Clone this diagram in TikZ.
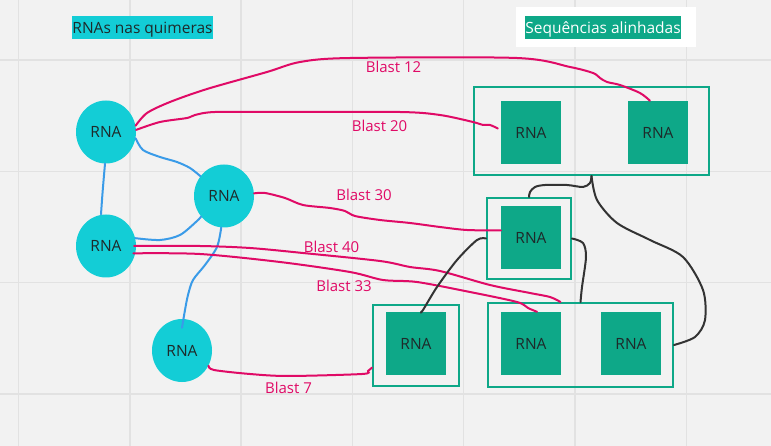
\documentclass[tikz,border=0pt]{standalone}
\usepackage{fontspec}
\setmainfont{Open Sans}
\usetikzlibrary{shapes.geometric}
\definecolor{fundo}{HTML}{F2F2F2}
\definecolor{grade}{HTML}{E2E2E2}
\definecolor{ciano}{HTML}{13CDD6}
\definecolor{verde}{HTML}{0EA888}
\definecolor{rosa}{HTML}{E00A66}
\definecolor{azul}{HTML}{3A9BE8}
\definecolor{escuro}{HTML}{333333}
\definecolor{texto}{HTML}{1E2A2A}
\tikzset{
	quimera/.style={ellipse, fill=ciano, minimum width=60pt, minimum height=63pt, inner sep=0pt,
		font=\fontsize{15.5}{18}\selectfont, text=texto, text height=11.2pt, text depth=0pt},
	seq/.style={rectangle, fill=verde, minimum width=60pt, minimum height=63pt, inner sep=0pt,
		font=\fontsize{15.5}{18}\selectfont, text=texto, text height=11.2pt, text depth=0pt},
	grupo/.style={rectangle, draw=verde, line width=2pt, inner sep=0pt},
	blast/.style={rosa, line width=2pt, line cap=round},
	ligacao/.style={azul, line width=2pt, line cap=round},
	alinha/.style={escuro, line width=2pt, line cap=round},
	rotulo/.style={text=rosa, font=\fontsize{15}{18}\selectfont, inner sep=0pt, anchor=base}
}

\begin{document}
\begin{tikzpicture}[x=1pt, y=-1pt]
		%%%%% START %%%%%
		
		\useasboundingbox (0, 0) rectangle (771, 446);
		\fill[fundo] (0, 0) rectangle (771, 446);
		\foreach \x in {18.5, 129.8, ..., 771}
			\draw[grade, line width=1.5pt] (\x, 0) -- (\x, 446);
		\foreach \y in {60, 171.3, ..., 446}
			\draw[grade, line width=1.5pt] (0, \y) -- (771, \y);
		
		% titulos
		\node[fill=ciano, minimum width=141pt, minimum height=23pt, inner sep=0pt, text=texto,
			font=\fontsize{15.5}{18}\selectfont, text height=11.2pt, text depth=0pt] (tit1) at (142.5, 27.5) {RNAs nas quimeras};
		\node[fill=white, minimum width=180pt, minimum height=40pt, inner sep=0pt] (caixa) at (606, 27) {};
		\node[fill=verde, minimum width=156pt, minimum height=23pt, inner sep=0pt, text=white,
			font=\fontsize{15.5}{18}\selectfont, text height=11.2pt, text depth=0pt] (tit2) at (603, 27.5) {Sequências alinhadas};
		
		% quimeras
		\node[quimera] (qa) at (106, 132) {RNA};
		\node[quimera] (qb) at (224, 196) {RNA};
		\node[quimera] (qc) at (106, 246) {RNA};
		\node[quimera] (qd) at (182, 350.5) {RNA};
		
		% grupos alinhados
		\node[grupo, minimum width=235pt, minimum height=88pt] (g1) at (591.5, 131) {};
		\node[grupo, minimum width=84pt, minimum height=81pt] (g2) at (529, 238.5) {};
		\node[grupo, minimum width=86pt, minimum height=81pt] (g3) at (416, 345.5) {};
		\node[grupo, minimum width=185pt, minimum height=84pt] (g4) at (580.5, 345) {};
		
		\node[seq] (s1) at (531, 132.5) {RNA};
		\node[seq] (s2) at (658, 132.5) {RNA};
		\node[seq] (s3) at (531, 237.5) {RNA};
		\node[seq] (s4) at (416, 343.5) {RNA};
		\node[seq] (s5) at (531, 343.5) {RNA};
		\node[seq] (s6) at (631, 343.5) {RNA};
		
		% ligacoes entre quimeras
		\draw[ligacao] plot[smooth] coordinates {([xshift=-1pt]qa.south) (103, 187) (102, 200) ([xshift=-5pt]qc.north)};
		\draw[ligacao] plot[smooth] coordinates {(qa.-12) (143, 150) (160, 157) (177, 162) (190, 168) (qb.140)};
		\draw[ligacao] plot[smooth] coordinates {(qc.15) (160, 240) (180, 235) (197, 221) (qb.222)};
		\draw[ligacao] plot[smooth] coordinates {(qb.265) (217, 247) (205, 265) (193, 280) (188, 295) (185, 310) ([yshift=-9pt]qd.north)};
		
		% blasts
		\draw[blast] plot[smooth] coordinates {(qa.12) (147, 113) (170, 102) (207, 89) (267, 72) (300, 62) (350, 58)
			(517, 58) (570, 67) (593, 73) (600, 78) (607, 82) (620, 85) (640, 93) ([xshift=-8pt]s2.north)};
		\draw[blast] plot[smooth] coordinates {(qa.4) (160, 122) (187, 118) (195, 115) (215, 112) (280, 112)
			(400, 112) (440, 115) (473, 122) (483, 125) (490, 125) ([xshift=-3pt, yshift=4pt]s1.west)};
		\draw[blast] plot[smooth] coordinates {(qb.5) (265, 193) (285, 198) (303, 205) (330, 208) (345, 211)
			(355, 216) (380, 220) (410, 223) (440, 227) (467, 230) ([yshift=7pt]s3.west)};
		\draw[blast] plot[smooth] coordinates {([xshift=-2pt]qc.east) (200, 246) (250, 248) (303, 253) (380, 261)
			(410, 267) (440, 271) (490, 285) (530, 293) (550, 297) ([xshift=-20pt]g4.north)};
		\draw[blast] plot[smooth] coordinates {([xshift=-2pt]qc.-14) (200, 254) (280, 262) (350, 272) (383, 280)
			(417, 282) (470, 292) (517, 302) (528, 308) ([xshift=6pt]s5.north)};
		\draw[blast] plot[smooth] coordinates {(qd.-30) (214, 370) (250, 374) (288, 376) (362, 374) (368, 371) ([yshift=-22pt]g3.west)};
		
		\node[rotulo] (b12) at (393.5, 73) {Blast 12};
		\node[rotulo] (b20) at (379.5, 132) {Blast 20};
		\node[rotulo] (b30) at (364, 201) {Blast 30};
		\node[rotulo] (b40) at (331.5, 253) {Blast 40};
		\node[rotulo] (b33) at (344, 291) {Blast 33};
		\node[rotulo] (b7) at (288.5, 393) {Blast 7};
		
		% alinhamentos
		\draw[alinha] plot[smooth] coordinates {(g1.south) (590, 183) (583, 187) (567, 185) (545, 185) (535, 187) (530, 192) (g2.north)};
		\draw[alinha] plot[smooth] coordinates {(g1.south) (597, 200) (617, 223) (650, 240) (683, 257) (703, 290) (705, 320) (695, 337) (g4.east)};
		\draw[alinha] plot[smooth] coordinates {(g2.west) (477, 240) (457, 260) (437, 287) (423, 310) ([xshift=5pt]s4.north)};
		\draw[alinha] plot[smooth] coordinates {(g2.east) (583, 243) (586, 257) (582, 287) (g4.north)};
		
		%%%%% END %%%%%
	\end{tikzpicture}
\end{document}
